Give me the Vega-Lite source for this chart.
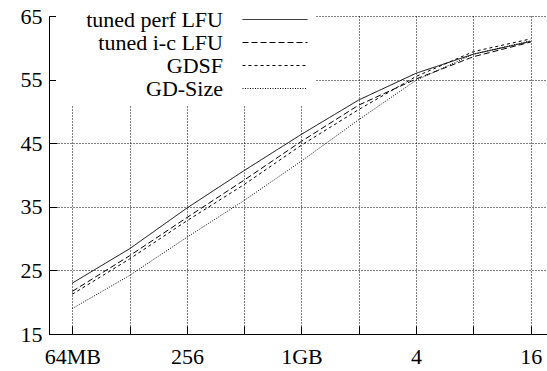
{
  "$schema": "https://vega.github.io/schema/vega-lite/v6.json",
  "width": 498,
  "height": 318,
  "autosize": {"type": "none"},
  "padding": {"left": 49, "top": 16, "right": 0, "bottom": 37},
  "background": "white",
  "config": {
    "view": {"stroke": null},
    "font": "Liberation Serif",
    "axis": {
      "labelFont": "Liberation Serif",
      "labelFontSize": 22,
      "labelColor": "black",
      "domainColor": "black",
      "domainWidth": 1,
      "tickColor": "black",
      "tickSize": -8,
      "gridColor": "black",
      "gridDash": [1, 2],
      "gridWidth": 1,
      "title": null
    }
  },
  "data": {
    "values": [
      {"size": 64, "policy": "tuned perf LFU", "hit": 23.0},
      {"size": 128, "policy": "tuned perf LFU", "hit": 28.4},
      {"size": 256, "policy": "tuned perf LFU", "hit": 34.8},
      {"size": 512, "policy": "tuned perf LFU", "hit": 40.7},
      {"size": 1024, "policy": "tuned perf LFU", "hit": 46.4},
      {"size": 2048, "policy": "tuned perf LFU", "hit": 51.8},
      {"size": 4096, "policy": "tuned perf LFU", "hit": 56.0},
      {"size": 8192, "policy": "tuned perf LFU", "hit": 59.0},
      {"size": 16384, "policy": "tuned perf LFU", "hit": 61.0},
      {"size": 64, "policy": "tuned i-c LFU", "hit": 21.7},
      {"size": 128, "policy": "tuned i-c LFU", "hit": 27.3},
      {"size": 256, "policy": "tuned i-c LFU", "hit": 33.3},
      {"size": 512, "policy": "tuned i-c LFU", "hit": 39.2},
      {"size": 1024, "policy": "tuned i-c LFU", "hit": 45.3},
      {"size": 2048, "policy": "tuned i-c LFU", "hit": 51.0},
      {"size": 4096, "policy": "tuned i-c LFU", "hit": 55.1},
      {"size": 8192, "policy": "tuned i-c LFU", "hit": 58.6},
      {"size": 16384, "policy": "tuned i-c LFU", "hit": 60.9},
      {"size": 64, "policy": "GDSF", "hit": 21.25},
      {"size": 128, "policy": "GDSF", "hit": 26.8},
      {"size": 256, "policy": "GDSF", "hit": 32.8},
      {"size": 512, "policy": "GDSF", "hit": 38.5},
      {"size": 1024, "policy": "GDSF", "hit": 44.7},
      {"size": 2048, "policy": "GDSF", "hit": 50.3},
      {"size": 4096, "policy": "GDSF", "hit": 55.5},
      {"size": 8192, "policy": "GDSF", "hit": 59.4},
      {"size": 16384, "policy": "GDSF", "hit": 61.4},
      {"size": 64, "policy": "GD-Size", "hit": 19.0},
      {"size": 128, "policy": "GD-Size", "hit": 24.2},
      {"size": 256, "policy": "GD-Size", "hit": 30.2},
      {"size": 512, "policy": "GD-Size", "hit": 36.0},
      {"size": 1024, "policy": "GD-Size", "hit": 42.2},
      {"size": 2048, "policy": "GD-Size", "hit": 48.7},
      {"size": 4096, "policy": "GD-Size", "hit": 54.9},
      {"size": 8192, "policy": "GD-Size", "hit": 59.0},
      {"size": 16384, "policy": "GD-Size", "hit": 61.1}
    ]
  },
  "mark": {"type": "line", "stroke": "black", "strokeWidth": 1},
  "encoding": {
    "x": {
      "field": "size",
      "type": "quantitative",
      "scale": {"type": "log", "base": 2, "domain": [48.3, 19950], "nice": false},
      "axis": {
        "values": [64, 128, 256, 512, 1024, 2048, 4096, 8192, 16384],
        "labelExpr": "datum.value == 64 ? '64MB' : datum.value == 256 ? '256' : datum.value == 1024 ? '1GB' : datum.value == 4096 ? '4' : datum.value == 16384 ? '16' : ''",
        "labelPadding": 20,
        "labelFlush": false,
        "labelOverlap": false
      }
    },
    "y": {
      "field": "hit",
      "type": "quantitative",
      "scale": {"domain": [15, 65], "nice": false, "zero": false},
      "axis": {
        "values": [15, 25, 35, 45, 55, 65],
        "labelPadding": 15
      }
    },
    "strokeDash": {
      "field": "policy",
      "type": "nominal",
      "scale": {
        "domain": ["tuned perf LFU", "tuned i-c LFU", "GDSF", "GD-Size"],
        "range": [[1, 0], [6, 3], [3, 3], [1, 1.5]]
      },
      "legend": {
        "title": null,
        "orient": "none",
        "legendX": 7,
        "legendY": -13.5,
        "symbolType": "M-5,0H5",
        "symbolSize": 169,
        "symbolStrokeColor": "black",
        "symbolStrokeWidth": 1,
        "symbolOffset": 202,
        "labelFont": "Liberation Serif",
        "labelFontSize": 22,
        "labelColor": "black",
        "labelAlign": "right",
        "labelOffset": -63,
        "rowPadding": 1,
        "padding": 6,
        "fillColor": "white"
      }
    }
  }
}
